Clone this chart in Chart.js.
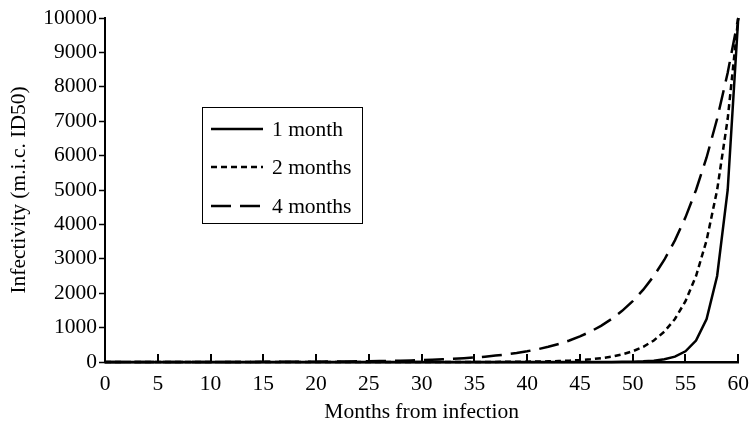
<!DOCTYPE html>
<html>
<head>
<meta charset="utf-8">
<script src="https://cdn.jsdelivr.net/npm/chart.js@4/dist/chart.umd.min.js"></script>
<style>
  html, body { margin: 0; padding: 0; background: #fff; }
  #wrap { width: 749px; height: 426px; }
</style>
</head>
<body>
<div id="wrap"><canvas id="c" width="749" height="426"></canvas></div>
<script>
// ---- data ----
const months = [0,1,2,3,4,5,6,7,8,9,10,11,12,13,14,15,16,17,18,19,20,21,22,23,24,25,26,27,28,29,30,
  31,32,33,34,35,36,37,38,39,40,41,42,43,44,45,46,47,48,49,50,51,52,53,54,55,56,57,58,59,60];

const seriesNames = ["1 month", "2 months", "4 months"];

const oneMonth = [0,0,0,0,0,0,0,0,0,0,0,0,0,0,0,0,0,0,0,0,0,0,0,0,0,0,0,0,0,0,0,
  0,0,0,0,0,0,0,0,0,0,0,0,0,0,0,1,1,2,5,10,20,39,78,156,312,625,1250,2500,5000,10000];

const twoMonths = [0,0,0,0,0,0,0,0,0,0,0,0,0,0,0,0,0,0,0,0,0,0,0,0,0,0,0,0,0,0,0,
  1,1,1,1,2,2,3,5,7,10,14,20,28,39,55,78,110,156,221,312,442,625,884,1250,1768,2500,3536,5000,7071,10000];

const fourMonths = [0,0,0,1,1,1,1,1,1,1,2,2,2,3,3,4,5,6,7,8,10,12,14,16,20,23,28,33,39,46,55,
  66,78,93,110,131,156,186,221,263,312,372,442,526,625,743,884,1051,1250,1487,1768,2102,2500,2973,3536,4204,5000,5946,7071,8409,10000];

const xTicks = [0,5,10,15,20,25,30,35,40,45,50,55,60];
const yTicks = [0,1000,2000,3000,4000,5000,6000,7000,8000,9000,10000];

const FONT = "'Liberation Serif', 'Times New Roman', serif";
const FS = 21.5;

function pts(vals) { return months.map((m, i) => ({ x: m, y: vals[i] })); }

const inwardTicks = {
  id: 'inwardTicks',
  afterDatasetsDraw(chart) {
    const ctx = chart.ctx, xs = chart.scales.x, bottom = chart.chartArea.bottom;
    ctx.save();
    ctx.strokeStyle = '#000';
    ctx.lineWidth = 2;
    xTicks.forEach(v => {
      if (v === 0) return;
      const px = Math.round(xs.getPixelForValue(v));
      ctx.beginPath();
      ctx.moveTo(px, bottom);
      ctx.lineTo(px, bottom - 8);
      ctx.stroke();
    });
    ctx.restore();
  }
};

const boxLegend = {
  id: 'boxLegend',
  afterDraw(chart) {
    const ctx = chart.ctx;
    const bx = 202, by = 107, bw = 160, bh = 116;
    ctx.save();
    ctx.fillStyle = '#fff';
    ctx.fillRect(bx, by, bw, bh);
    ctx.strokeStyle = '#000';
    ctx.lineWidth = 1;
    ctx.strokeRect(bx + 0.5, by + 0.5, bw, bh);
    const rows = [129, 167, 206];
    chart.data.datasets.forEach((ds, i) => {
      const y = rows[i];
      ctx.beginPath();
      ctx.setLineDash(ds.borderDash || []);
      ctx.lineWidth = ds.borderWidth;
      ctx.strokeStyle = '#000';
      ctx.moveTo(211, y);
      ctx.lineTo(263, y);
      ctx.stroke();
      ctx.setLineDash([]);
      ctx.fillStyle = '#000';
      ctx.font = FS + "px " + FONT;
      ctx.textBaseline = 'middle';
      ctx.textAlign = 'left';
      ctx.fillText(ds.label, 272, y + 1);
    });
    ctx.restore();
  }
};

new Chart(document.getElementById('c'), {
  type: 'line',
  data: {
    datasets: [
      { label: seriesNames[0], data: pts(oneMonth), borderColor: '#000', borderWidth: 2.5, borderDash: [], pointRadius: 0, tension: 0, fill: false },
      { label: seriesNames[1], data: pts(twoMonths), borderColor: '#000', borderWidth: 2.5, borderDash: [6, 4], pointRadius: 0, tension: 0, fill: false },
      { label: seriesNames[2], data: pts(fourMonths), borderColor: '#000', borderWidth: 2.5, borderDash: [20, 9], pointRadius: 0, tension: 0, fill: false }
    ]
  },
  options: {
    responsive: false,
    animation: false,
    clip: false,
    layout: { padding: { top: 18, right: 0, left: 0, bottom: 0 } },
    plugins: { legend: { display: false }, tooltip: { enabled: false } },
    scales: {
      x: {
        type: 'linear', min: 0, max: 60,
        afterBuildTicks(scale) { scale.ticks = xTicks.map(v => ({ value: v })); },
        ticks: { color: '#000', font: { family: FONT, size: FS }, padding: 0, maxRotation: 0, autoSkip: false,
                 callback: v => String(v) },
        grid: { display: true, drawOnChartArea: false, drawTicks: true, tickLength: 9, tickColor: 'rgba(0,0,0,0)', color: 'rgba(0,0,0,0)' },
        border: { display: true, color: '#000', width: 2.5 },
        title: { display: true, text: 'Months from infection', color: '#000', font: { family: FONT, size: FS }, padding: { top: 0, bottom: 1 } },
        afterFit(scale) { scale.height = 64; }
      },
      y: {
        type: 'linear', min: 0, max: 10000,
        afterBuildTicks(scale) { scale.ticks = yTicks.map(v => ({ value: v })); },
        ticks: { color: '#000', font: { family: FONT, size: FS }, padding: 2, callback: v => String(v) },
        grid: { display: true, drawOnChartArea: false, drawTicks: true, tickLength: 6, tickWidth: 1.5, tickColor: '#000' },
        border: { display: true, color: '#000', width: 2 },
        title: { display: true, text: 'Infectivity (m.i.c. ID50)', color: '#000', font: { family: FONT, size: FS }, padding: { top: 6, bottom: 0 } },
        afterFit(scale) { scale.width = 105; }
      }
    }
  },
  plugins: [inwardTicks, boxLegend]
});
</script>
</body>
</html>
